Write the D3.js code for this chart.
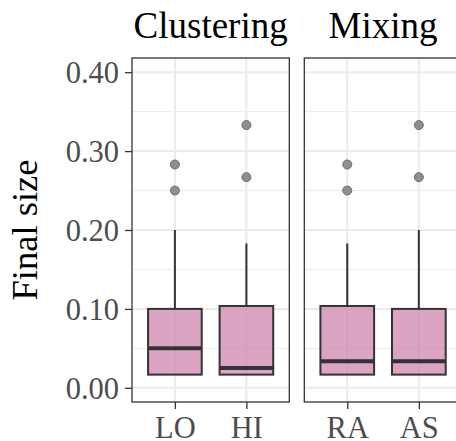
<!DOCTYPE html>
<html><head><meta charset="utf-8">
<script src="https://cdn.jsdelivr.net/npm/d3@7"></script>
<style>body{margin:0;background:#fff}svg{display:block}</style>
</head><body>
<script>
// ---- data ----
const facets = ["Clustering", "Mixing"];
const categories = [["LO", "HI"], ["RA", "AS"]];
// box stats per category: [lower hinge, median, upper hinge, upper whisker]
const q1 =      [[0.0167, 0.0167], [0.0167, 0.0167]];
const medians = [[0.050, 0.025], [0.0335, 0.0335]];
const q3 =      [[0.100, 0.1037], [0.1037, 0.100]];
const whiskLo = [[0.0167, 0.0167], [0.0167, 0.0167]];
const whiskHi = [[0.200, 0.183], [0.183, 0.200]];
const outliers = [[[0.283, 0.250], [0.333, 0.267]], [[0.283, 0.250], [0.333, 0.267]]];
const yTicks = [0.00, 0.10, 0.20, 0.30, 0.40];
const yMinor = [0.05, 0.15, 0.25, 0.35];

const W = 456, H = 441;
const svg = d3.select("body").append("svg").attr("width", W).attr("height", H);
const font = "'Liberation Serif', 'Times New Roman', serif";

const pTop = 58, pBottom = 402;
const y = d3.scaleLinear().domain([-0.018, 0.418]).range([pBottom, pTop]);
const panels = [[132, 289.3], [304.3, 461.8]];
const fill = "#CC79A7";

// y axis title
svg.append("text").attr("transform", `translate(37,${(pTop + pBottom) / 2}) rotate(-90)`)
  .attr("text-anchor", "middle").attr("font-family", font).attr("font-size", 36.5)
  .attr("fill", "#000").text("Final size");

// y tick labels and ticks
const yAxis = d3.axisLeft(y).tickValues(yTicks).tickFormat(d3.format(".2f")).tickSize(7).tickPadding(6);
const ya = svg.append("g").attr("transform", `translate(${panels[0][0]},0)`).call(yAxis);
ya.select(".domain").remove();
ya.selectAll("line").attr("stroke", "#333").attr("stroke-width", 1.3);
ya.selectAll("text").attr("font-family", font).attr("font-size", 30.5).attr("fill", "#4d4d4d").attr("dy", "0.34em");

facets.forEach((f, i) => {
  const [x0, x1] = panels[i];
  const x = d3.scalePoint().domain(categories[i]).range([x0, x1]).padding(0.6);
  const bw = x.step() * 0.75;
  const g = svg.append("g");

  // grid
  g.selectAll(".ymin").data(yMinor).join("line")
    .attr("x1", x0).attr("x2", x1).attr("y1", d => y(d)).attr("y2", d => y(d))
    .attr("stroke", "#ebebeb").attr("stroke-width", 1);
  g.selectAll(".ymaj").data(yTicks).join("line")
    .attr("x1", x0).attr("x2", x1).attr("y1", d => y(d)).attr("y2", d => y(d))
    .attr("stroke", "#ebebeb").attr("stroke-width", 2);
  g.selectAll(".xmaj").data(categories[i]).join("line")
    .attr("x1", d => x(d)).attr("x2", d => x(d)).attr("y1", pTop).attr("y2", pBottom)
    .attr("stroke", "#ebebeb").attr("stroke-width", 2);

  categories[i].forEach((c, j) => {
    const cx = x(c);
    g.append("line").attr("x1", cx).attr("x2", cx).attr("y1", y(q3[i][j])).attr("y2", y(whiskHi[i][j]))
      .attr("stroke", "#333").attr("stroke-width", 2);
    g.append("line").attr("x1", cx).attr("x2", cx).attr("y1", y(q1[i][j])).attr("y2", y(whiskLo[i][j]))
      .attr("stroke", "#333").attr("stroke-width", 2);
    g.append("rect").attr("x", cx - bw / 2).attr("width", bw)
      .attr("y", y(q3[i][j])).attr("height", y(q1[i][j]) - y(q3[i][j]))
      .attr("fill", fill).attr("fill-opacity", 0.68).attr("stroke", "#333").attr("stroke-width", 2);
    g.append("line").attr("x1", cx - bw / 2).attr("x2", cx + bw / 2)
      .attr("y1", y(medians[i][j])).attr("y2", y(medians[i][j]))
      .attr("stroke", "#333").attr("stroke-width", 4);
    g.selectAll(null).data(outliers[i][j]).join("circle")
      .attr("cx", cx).attr("cy", d => y(d)).attr("r", 4.5)
      .attr("fill", "#8f8f8f").attr("stroke", "#6e6e6e").attr("stroke-width", 1);
  });

  g.append("rect").attr("x", x0).attr("y", pTop).attr("width", x1 - x0).attr("height", pBottom - pTop)
    .attr("fill", "none").attr("stroke", "#333").attr("stroke-width", 1.3);

  const xAxis = d3.axisBottom(x).tickSize(7).tickPadding(6);
  const xa = svg.append("g").attr("transform", `translate(0,${pBottom})`).call(xAxis);
  xa.select(".domain").remove();
  xa.selectAll("line").attr("stroke", "#333").attr("stroke-width", 1.3);
  xa.selectAll("text").attr("font-family", font).attr("font-size", 30.5).attr("fill", "#4d4d4d")
    .attr("dy", null).attr("y", 36);

  svg.append("text").attr("x", (x0 + x1) / 2).attr("y", 38).attr("text-anchor", "middle")
    .attr("font-family", font).attr("font-size", 37).attr("fill", "#000").text(f);
});
</script>
</body></html>
